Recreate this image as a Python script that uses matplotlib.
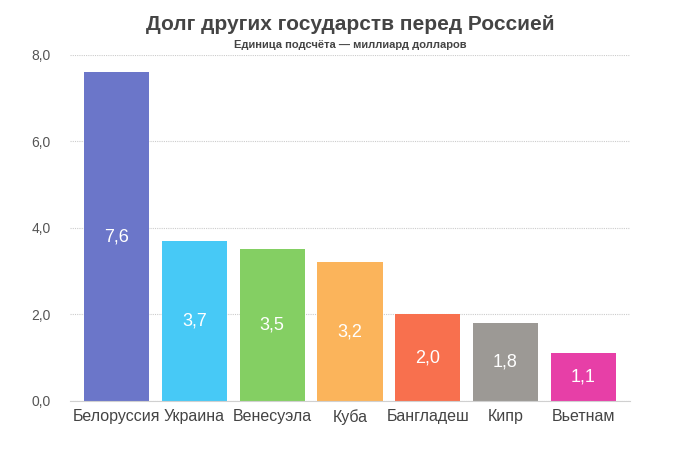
import matplotlib
matplotlib.use("Agg")
import matplotlib.pyplot as plt

plt.rcParams['font.family'] = ['Liberation Sans', 'DejaVu Sans']

countries = ["Белоруссия", "Украина", "Венесуэла", "Куба", "Бангладеш", "Кипр", "Вьетнам"]
debt = [7.6, 3.7, 3.5, 3.2, 2.0, 1.8, 1.1]
colors = ["#6b76c9", "#47c9f6", "#84cf63", "#fbb45b", "#f8704e", "#9c9995", "#e73fa7"]
yticks = [0, 2, 4, 6, 8]

fig = plt.figure(figsize=(7, 4.53), dpi=100)
ax = fig.add_axes([0.1, 0.115, 0.8, 0.764])

x = range(len(countries))
bars = ax.bar(x, debt, width=0.84, color=colors, zorder=2)

# подписи значений внутри столбцов
for i, v in enumerate(debt):
    ax.text(i, v / 2, f"{v:.1f}".replace(".", ","), color="white",
            ha="center", va="center", fontsize=13, zorder=3)

ax.set_xlim(-0.6, 6.6)
ax.set_ylim(0, 8)
ax.set_yticks(yticks)
ax.set_yticklabels([f"{t:.1f}".replace(".", ",") for t in yticks], color="#555555", fontsize=10)
ax.set_xticks(list(x))
ax.set_xticklabels(countries, fontsize=11.5, color="#444444")
ax.tick_params(axis="both", length=0)
ax.tick_params(axis="y", pad=14)
ax.tick_params(axis="x", pad=6)

ax.grid(axis="y", color="#cccccc", linestyle=(0, (1, 1)), linewidth=0.8, zorder=0)
for s in ["top", "right", "left"]:
    ax.spines[s].set_visible(False)
ax.spines["bottom"].set_color("#d0d0d0")

fig.text(0.5, 0.945, "Долг других государств перед Россией", ha="center", va="center",
         fontsize=15, color="#444444", fontweight="bold")
fig.text(0.5, 0.900, "Единица подсчёта — миллиард долларов", ha="center", va="center",
         fontsize=8, color="#444444", fontweight="bold")

fig.savefig("out.png", dpi=100)
